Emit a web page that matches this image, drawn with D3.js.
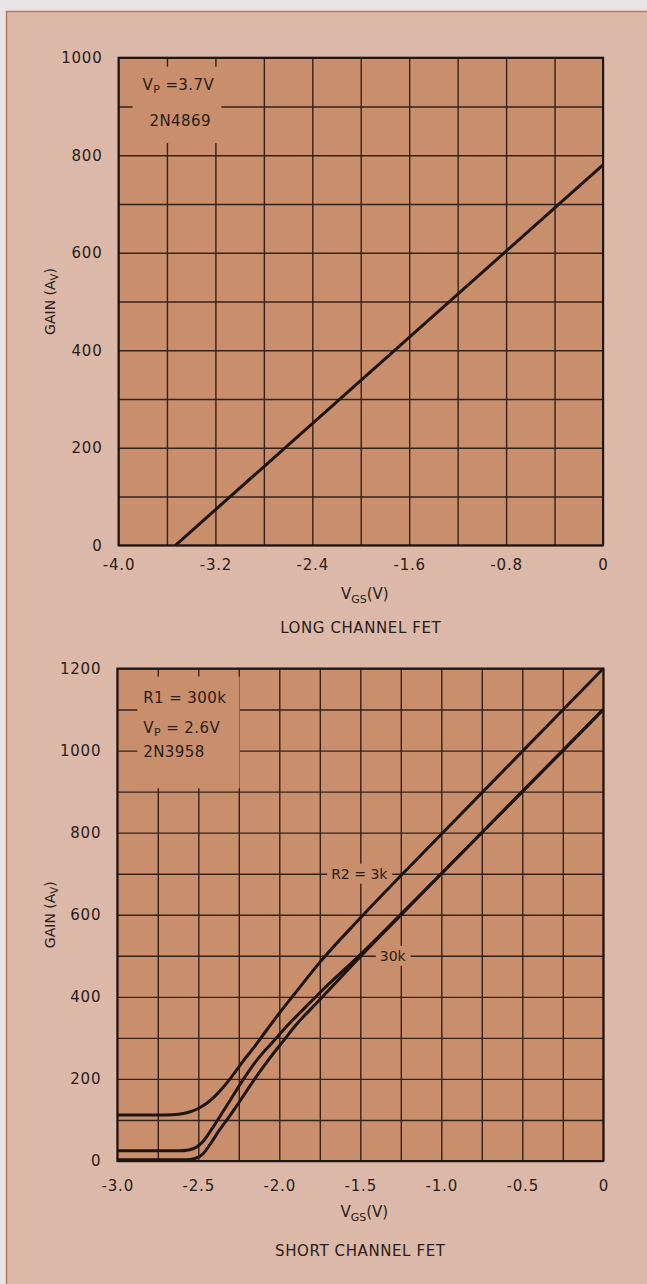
<!DOCTYPE html>
<html lang="en">
<head>
<meta charset="utf-8">
<title>FET gain vs VGS</title>
<script src="https://d3js.org/d3.v7.min.js"></script>
<style>
  html, body { margin: 0; overflow: hidden; background: #dcb8a8; }
  svg { display: block; }
  text { font-family: "DejaVu Sans", sans-serif; fill: #2a1c18; }
</style>
</head>
<body>
<script>

// ---- long channel FET (2N4869) ----
var longTicksX = [-4.0, -3.2, -2.4, -1.6, -0.8, 0];
var longTickLabels = ["-4.0", "-3.2", "-2.4", "-1.6", "-0.8", "0"];
var longTicksY = [0, 200, 400, 600, 800, 1000];
var longVgs  = [-3.53, 0];
var longGain = [0, 780];

// ---- short channel FET (2N3958) ----
var shortTicksX = [-3.0, -2.5, -2.0, -1.5, -1.0, -0.5, 0];
var shortTickLabels = ["-3.0", "-2.5", "-2.0", "-1.5", "-1.0", "-0.5", "0"];
var shortTicksY = [0, 200, 400, 600, 800, 1000, 1200];

// R2 = 3k (upper curve)
var r2_3kVgs  = [-3.0, -2.7, -2.62, -2.55, -2.5, -2.45, -2.4, -2.35, -2.3, -2.22, -2.15, -2.08, -2.0, -1.9, -1.75, -1.5, -1.0, -0.5, 0];
var r2_3kGain = [112, 112, 114, 120, 128, 140, 157, 178, 202, 245, 280, 318, 360, 410, 484, 592, 796, 998, 1200];
// middle curve
var midVgs  = [-3.0, -2.62, -2.56, -2.51, -2.47, -2.43, -2.38, -2.3, -2.22, -2.13, -2.04, -1.95, -1.85, -1.75, -1.5, -1.25, -1.0, -0.5, 0];
var midGain = [25, 25, 27, 34, 48, 70, 100, 150, 200, 250, 290, 330, 370, 410, 503, 601, 700, 900, 1100];
// R2 = 30k (lower curve)
var r2_30kVgs  = [-3.0, -2.58, -2.52, -2.47, -2.42, -2.37, -2.32, -2.25, -2.16, -2.06, -1.97, -1.9, -1.75, -1.5, -1.25, -1.0, -0.5, 0];
var r2_30kGain = [3, 3, 6, 18, 45, 75, 102, 142, 195, 250, 295, 330, 393, 498, 599, 700, 900, 1100];

var W = 647, H = 1284;
var plotFill = "#c98e6c";
var paper = "#dcb8a8";
var ink = "#1e1411";
var gridInk = "#33221b";

var svg = d3.select("body").append("svg")
  .attr("width", W)
  .attr("height", H);

// light margin, then the paper sheet with a thin reddish edge on top and left
svg.append("rect")
  .attr("width", W).attr("height", H)
  .attr("fill", "#e8e4e5");
svg.append("rect")
  .attr("x", 6.5).attr("y", 11.5)
  .attr("width", W - 6.5).attr("height", H - 11.5)
  .attr("fill", paper);
svg.append("path")
  .attr("d", `M6.5,${H} V11.5 H${W}`)
  .attr("fill", "none")
  .attr("stroke", "#c0745e")
  .attr("stroke-width", 1.5);

function drawPanel(o) {
  var x = d3.scaleLinear().domain(o.xDomain).range([o.left, o.right]);
  var y = d3.scaleLinear().domain(o.yDomain).range([o.bottom, o.top]);
  var pw = o.right - o.left, ph = o.bottom - o.top;
  var g = svg.append("g");

  g.append("rect")
    .attr("x", o.left).attr("y", o.top)
    .attr("width", pw).attr("height", ph)
    .attr("fill", plotFill);

  // grid from the axes, with tick lines stretched across the plot
  var vGrid = g.append("g")
    .attr("transform", `translate(0, ${o.bottom})`)
    .call(d3.axisBottom(x).tickValues(o.gridX).tickSize(-ph).tickFormat(""));
  var hGrid = g.append("g")
    .attr("transform", `translate(${o.left}, 0)`)
    .call(d3.axisLeft(y).tickValues(o.gridY).tickSize(-pw).tickFormat(""));
  [vGrid, hGrid].forEach(function(a) {
    a.select(".domain").remove();
    a.selectAll("line").attr("stroke", gridInk).attr("stroke-width", 1.4);
  });

  // blank area for the device notes (grid stubs stay at the edges)
  g.append("rect")
    .attr("x", o.left + o.note.stubX)
    .attr("y", o.top + o.note.stubY)
    .attr("width", x(o.note.x1) - o.left - o.note.stubX)
    .attr("height", y(o.note.y1) - o.top - o.note.stubY)
    .attr("fill", plotFill);

  // frame
  g.append("rect")
    .attr("x", o.left).attr("y", o.top)
    .attr("width", pw).attr("height", ph)
    .attr("fill", "none")
    .attr("stroke", ink)
    .attr("stroke-width", 2);

  // tick labels
  var yAx = g.append("g")
    .attr("transform", `translate(${o.left}, 0)`)
    .call(d3.axisLeft(y).tickValues(o.ticksY).tickSize(0).tickPadding(16).tickFormat(d3.format("d")));
  var xAx = g.append("g")
    .attr("transform", `translate(0, ${o.bottom})`)
    .call(d3.axisBottom(x).tickValues(o.ticksX).tickSize(0).tickPadding(o.xPad)
      .tickFormat(function(d, i) { return o.tickLabels[i]; }));
  [yAx, xAx].forEach(function(a) {
    a.select(".domain").remove();
    a.attr("font-family", null).attr("font-size", null);
    a.selectAll("text")
      .style("font-size", "15px")
      .style("letter-spacing", "0.8px")
      .attr("fill", "#2a1c18");
  });

  // curves
  var line = d3.line()
    .x(function(d) { return x(d[0]); })
    .y(function(d) { return y(d[1]); })
    .curve(d3.curveMonotoneX);
  o.series.forEach(function(s) {
    var pts = s.v.map(function(v, i) { return [v, s.g[i]]; });
    g.append("path")
      .attr("d", line(pts))
      .attr("fill", "none")
      .attr("stroke", ink)
      .attr("stroke-width", 3)
      .attr("stroke-linejoin", "round");
  });

  // curve labels on a cleared patch of grid
  (o.curveLabels || []).forEach(function(c) {
    var t = g.append("text")
      .attr("x", x(c.v)).attr("y", y(c.g))
      .attr("dominant-baseline", "central")
      .style("font-size", "14px")
      .text(c.text);
    var b = t.node().getBBox();
    g.insert("rect", "path")
      .attr("x", b.x - 4).attr("y", b.y - 2)
      .attr("width", b.width + 8).attr("height", b.height + 4)
      .attr("fill", plotFill);
  });

  // device notes
  o.notes.forEach(function(n) {
    var t = g.append("text")
      .attr("x", o.left + n.dx).attr("y", o.top + n.dy)
      .style("font-size", "15px")
      .style("letter-spacing", "0.4px");
    n.parts.forEach(function(p) {
      var ts = t.append("tspan").text(p[0]);
      if (p[1]) ts.attr("baseline-shift", "-30%").style("font-size", "11px");
    });
  });

  // y title
  var cy = (o.top + o.bottom) / 2;
  var yt = g.append("text")
    .attr("transform", `translate(55, ${cy}) rotate(-90)`)
    .attr("text-anchor", "middle")
    .style("font-size", "14px");
  yt.append("tspan").text("GAIN (A");
  yt.append("tspan").text("V").attr("baseline-shift", "-30%").style("font-size", "10px");
  yt.append("tspan").text(")");

  // x title
  var cx = (o.left + o.right) / 2;
  var xt = g.append("text")
    .attr("x", cx + 4).attr("y", o.bottom + o.xTitleDy)
    .attr("text-anchor", "middle")
    .style("font-size", "15px");
  xt.append("tspan").text("V");
  xt.append("tspan").text("GS").attr("baseline-shift", "-35%").style("font-size", "11px");
  xt.append("tspan").text("(V)");

  g.append("text")
    .attr("x", cx).attr("y", o.bottom + o.captionDy)
    .attr("text-anchor", "middle")
    .style("font-size", "15px")
    .style("letter-spacing", "0.6px")
    .text(o.caption);
}

drawPanel({
  xDomain: [-4, 0], yDomain: [0, 1000],
  left: 118.5, right: 603, top: 57.7, bottom: 545.3,
  gridX: d3.range(11).map(function(i) { return -4 + i * 0.4; }),
  gridY: d3.range(11).map(function(i) { return i * 100; }),
  ticksX: longTicksX, tickLabels: longTickLabels, ticksY: longTicksY,
  xPad: 14, xTitleDy: 54, captionDy: 88,
  note: { stubX: 14, stubY: 9, x1: -3.15, y1: 825 },
  notes: [
    { dx: 24, dy: 32, parts: [["V"], ["P", true], [" =3.7V"]] },
    { dx: 31, dy: 68, parts: [["2N4869"]] }
  ],
  series: [{ v: longVgs, g: longGain }],
  caption: "LONG CHANNEL  FET"
});

drawPanel({
  xDomain: [-3, 0], yDomain: [0, 1200],
  left: 117.3, right: 603.3, top: 668.5, bottom: 1161,
  gridX: d3.range(13).map(function(i) { return -3 + i * 0.25; }),
  gridY: d3.range(13).map(function(i) { return i * 100; }),
  ticksX: shortTicksX, tickLabels: shortTickLabels, ticksY: shortTicksY,
  xPad: 19, xTitleDy: 56, captionDy: 95,
  note: { stubX: 20, stubY: 8, x1: -2.245, y1: 908 },
  notes: [
    { dx: 26, dy: 34, parts: [["R1 = 300k"]] },
    { dx: 26, dy: 64, parts: [["V"], ["P", true], [" = 2.6V"]] },
    { dx: 26, dy: 88, parts: [["2N3958"]] }
  ],
  series: [
    { v: r2_3kVgs, g: r2_3kGain },
    { v: midVgs, g: midGain },
    { v: r2_30kVgs, g: r2_30kGain }
  ],
  curveLabels: [
    { v: -1.68, g: 700, text: "R2 = 3k" },
    { v: -1.38, g: 500, text: "30k" }
  ],
  caption: "SHORT  CHANNEL  FET"
});

</script>
</body>
</html>
